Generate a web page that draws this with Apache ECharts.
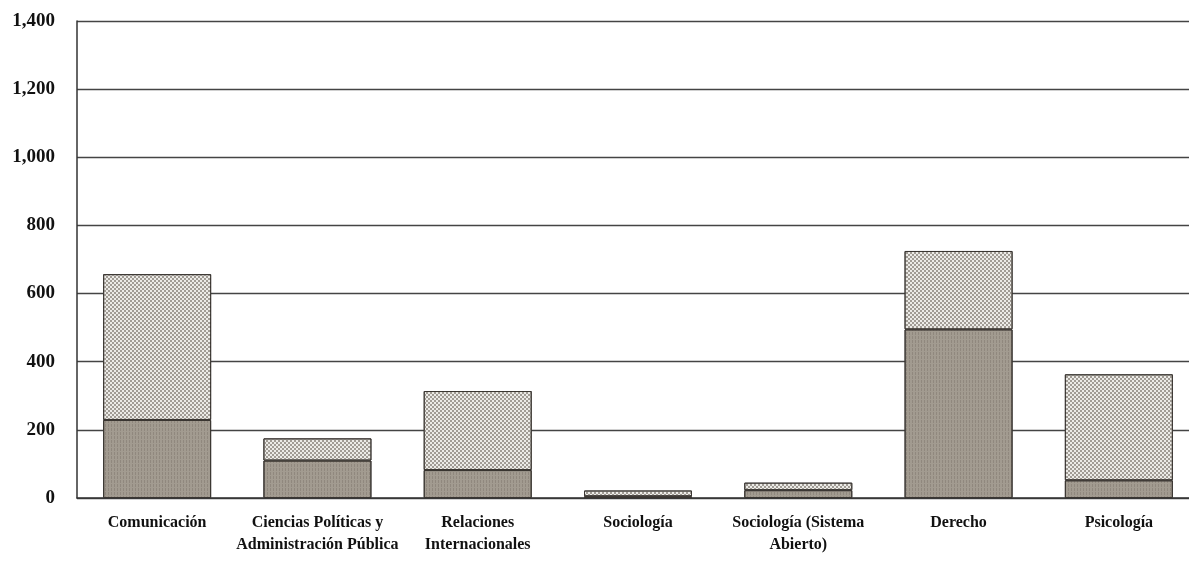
<!DOCTYPE html>
<html>
<head>
<meta charset="utf-8">
<script src="https://cdn.jsdelivr.net/npm/echarts@6/dist/echarts.min.js"></script>
<style>html,body{margin:0;padding:0;background:#fff;overflow:hidden;width:1189px;height:570px;}#c{width:1200px;height:570px;}</style>
</head>
<body>
<div id="c"></div>
<script>
const categories = ["Comunicación", "Ciencias Políticas y\nAdministración Pública", "Relaciones\nInternacionales", "Sociología", "Sociología (Sistema\nAbierto)", "Derecho", "Psicología"];
const darkValues = [229, 110, 82, 5, 23, 495, 52];
const lightValues = [428, 65, 232, 17, 22, 230, 311];
const yTicks = { min: 0, max: 1400, interval: 200 };

const chart = echarts.init(document.getElementById('c'), null, { renderer: 'canvas' });
const font = '"Liberation Serif", "DejaVu Serif", serif';
chart.setOption({
  animation: false,
  backgroundColor: '#ffffff',
  grid: { left: 77, right: 1, top: 21, bottom: 72, containLabel: false },
  xAxis: {
    type: 'category',
    data: categories,
    axisLine: { show: true, lineStyle: { color: '#333', width: 1.5 } },
    axisTick: { show: false },
    axisLabel: { interval: 0, margin: 14, fontFamily: font, fontWeight: 'bold', fontSize: 16, color: '#111', lineHeight: 22 }
  },
  yAxis: {
    type: 'value',
    min: yTicks.min, max: yTicks.max, interval: yTicks.interval,
    axisLine: { show: true, lineStyle: { color: '#333', width: 1.5 } },
    axisTick: { show: false },
    axisLabel: { margin: 22, fontFamily: font, fontWeight: 'bold', fontSize: 19, color: '#111',
      formatter: v => v.toLocaleString('en-US') },
    splitLine: { show: true, lineStyle: { color: '#444', width: 1.3 } }
  },
  series: [
    {
      type: 'bar', stack: 'total', data: darkValues, barWidth: 108,
      itemStyle: {
        color: '#a29b90', borderColor: '#3a3632', borderWidth: 1,
        decal: { symbol: 'rect', symbolSize: 1, color: 'rgba(90,80,70,0.25)', dashArrayX: [1, 2], dashArrayY: [3, 1], rotation: 0 }
      }
    },
    {
      type: 'bar', stack: 'total', data: lightValues, barWidth: 108,
      itemStyle: {
        color: '#ecebe7', borderColor: '#3a3632', borderWidth: 1,
        decal: { symbol: 'rect', symbolSize: 1, color: '#a19c95', dashArrayX: [[2, 2], [0, 2, 2, 0]], dashArrayY: [2, 0], rotation: 0 }
      }
    }
  ]
});
</script>
</body>
</html>
